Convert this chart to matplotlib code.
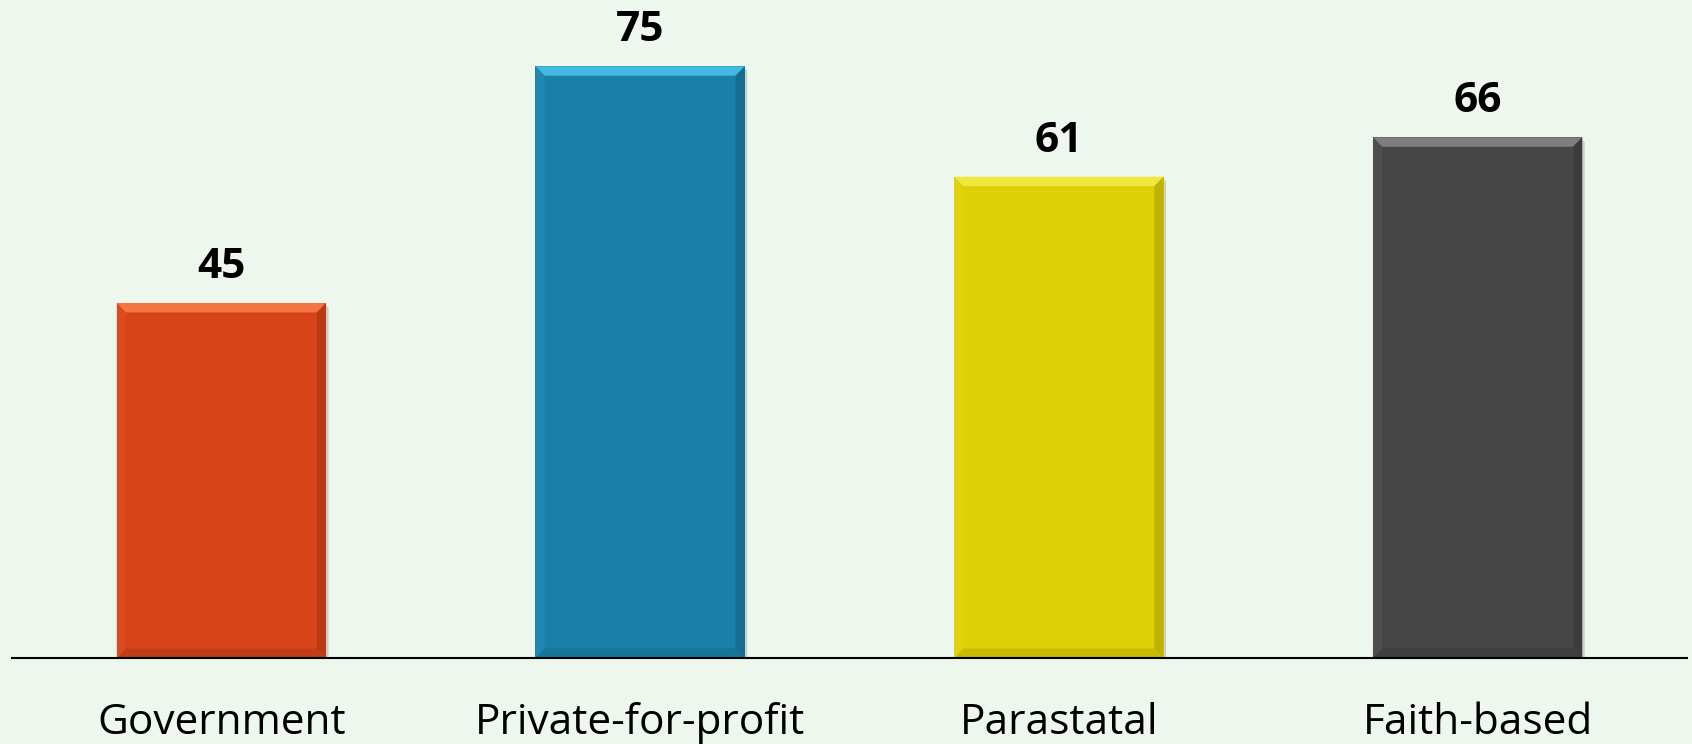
import matplotlib
matplotlib.use("Agg")
import matplotlib.pyplot as plt
from matplotlib.patches import Polygon
import matplotlib.colors as mcolors
import numpy as np

categories = ["Government", "Private-for-profit", "Parastatal", "Faith-based"]
values = [45, 75, 61, 66]
bar_colors = ["#D84419", "#1980A8", "#DDD005", "#464646"]
light_colors = ["#F27644", "#45B8E2", "#F0E840", "#7E7E7E"]

bg = "#EDF7EE"
plt.rcParams['font.family'] = ['Open Sans', 'DejaVu Sans']

fig = plt.figure(figsize=(16.92, 7.44), dpi=100, facecolor=bg)
ax = fig.add_axes([12/1692, (744-658)/744, (1687-12)/1692, 658/744])
ax.set_facecolor(bg)

x = np.arange(len(categories))
bars = ax.bar(x, values, width=0.5, color=bar_colors, zorder=3)

ax.set_xlim(-0.5, 3.5)
ax.set_ylim(0, 83.4)

# bevel effect derived from bar geometry
dx = 0.022
dy = 1.2
for b, lc, c in zip(bars, light_colors, bar_colors):
    x0, w, h = b.get_x(), b.get_width(), b.get_height()
    x1 = x0 + w
    base = np.array(mcolors.to_rgb(c))
    dark = tuple(base * 0.86)
    darker = tuple(base * 0.9)
    lightl = tuple(base * 0.7 + np.array(mcolors.to_rgb(lc)) * 0.3)
    # top
    ax.add_patch(Polygon([(x0, h), (x1, h), (x1 - dx, h - dy), (x0 + dx, h - dy)],
                         closed=True, facecolor=lc, edgecolor='none', zorder=4))
    # left
    ax.add_patch(Polygon([(x0, 0), (x0, h), (x0 + dx, h - dy), (x0 + dx, dy)],
                         closed=True, facecolor=lightl, edgecolor='none', zorder=4, alpha=0.5))
    # right
    ax.add_patch(Polygon([(x1, 0), (x1, h), (x1 - dx, h - dy), (x1 - dx, dy)],
                         closed=True, facecolor=dark, edgecolor='none', zorder=4))
    # bottom
    ax.add_patch(Polygon([(x0, 0), (x1, 0), (x1 - dx, dy), (x0 + dx, dy)],
                         closed=True, facecolor=darker, edgecolor='none', zorder=4))
    # soft shadow
    ax.add_patch(Polygon([(x1, 0), (x1, h - 0.3), (x1 + 0.006, h - 0.6), (x1 + 0.006, 0)],
                         closed=True, facecolor='#9aa89c', edgecolor='none', alpha=0.45, zorder=2))

for xi, v in zip(x, values):
    ax.annotate(str(v), xy=(xi, v), xytext=(0, 18), textcoords='offset points',
                ha='center', va='baseline', fontsize=30.5, fontweight='bold', color='black')

ax.set_xticks(x)
ax.set_xticklabels(categories, fontsize=30.5, color='black')
for lbl in ax.get_xticklabels():
    lbl.set_va('baseline')
ax.tick_params(axis='x', length=0, pad=55)
ax.set_yticks([])
for s in ['top', 'right', 'left']:
    ax.spines[s].set_visible(False)
ax.spines['bottom'].set_color('black')
ax.spines['bottom'].set_linewidth(1.5)
ax.spines['bottom'].set_zorder(5)

fig.savefig("out.png", dpi=100, facecolor=bg)
